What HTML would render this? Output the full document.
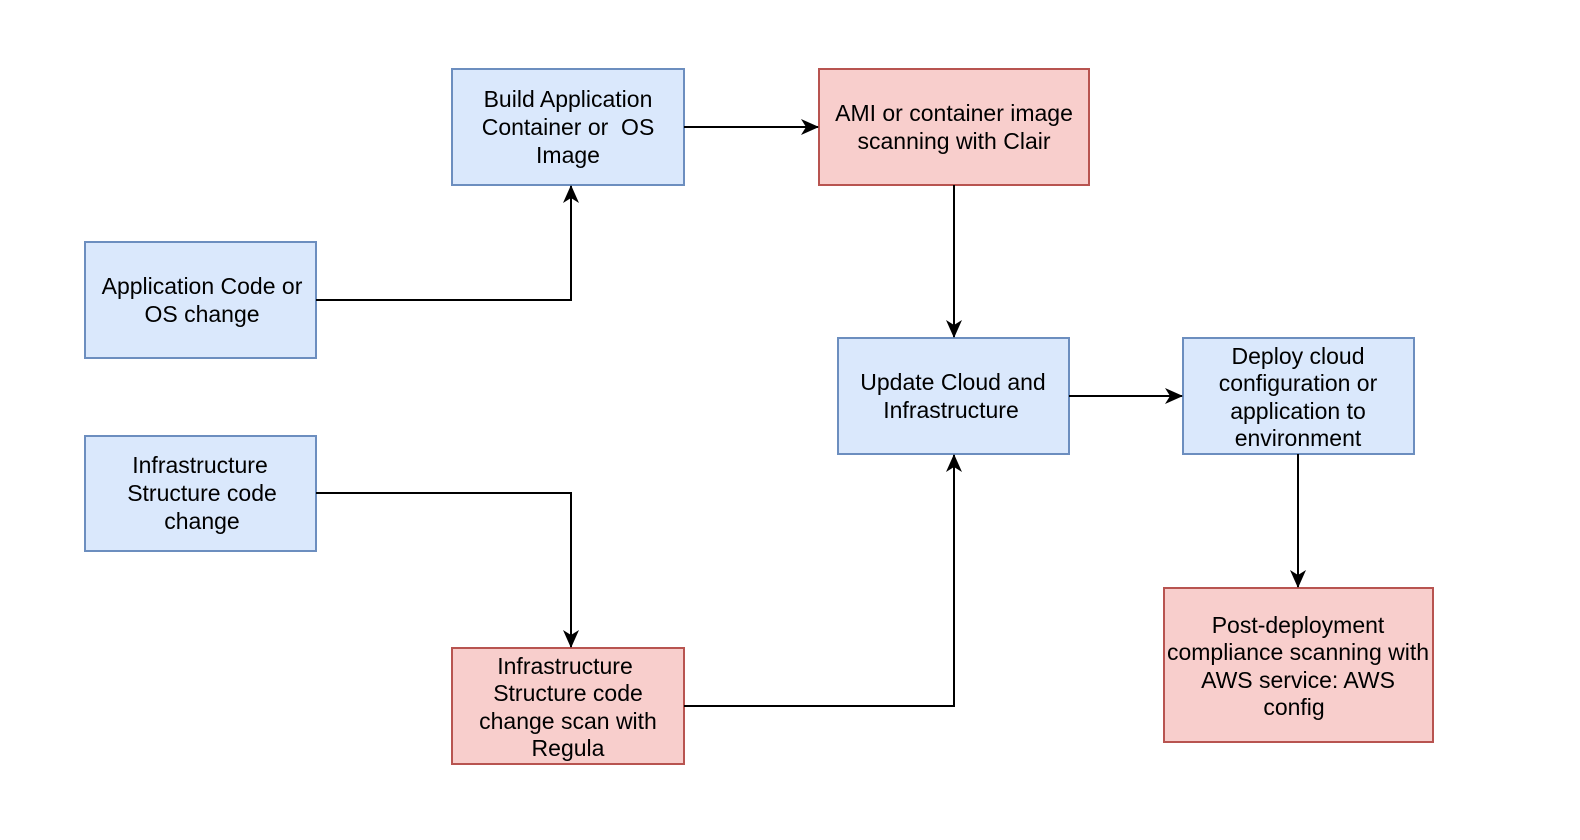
<!DOCTYPE html>
<html><head><style>body{margin:0;background:#fff}svg{display:block}text{font-family:"Liberation Sans",Arial,sans-serif;font-size:23px;fill:#000}</style></head><body>
<svg width="1580" height="840" viewBox="0 0 1580 840">
<defs><marker id="b" viewBox="0 0 18 18" markerWidth="18" markerHeight="18" refX="17" refY="9" orient="auto" markerUnits="userSpaceOnUse"><path d="M0,1 L18,9 L0,17 L5,9 Z" fill="#000"/></marker></defs>
<g fill="#dae8fc" stroke="#6c8ebf" stroke-width="2">
<rect x="452" y="69" width="232" height="116"/>
<rect x="85" y="242" width="231" height="116"/>
<rect x="85" y="436" width="231" height="115"/>
<rect x="838" y="338" width="231" height="116"/>
<rect x="1183" y="338" width="231" height="116"/>
</g>
<g fill="#f8cecc" stroke="#b85450" stroke-width="2">
<rect x="819" y="69" width="270" height="116"/>
<rect x="452" y="648" width="232" height="116"/>
<rect x="1164" y="588" width="269" height="154"/>
</g>
<g stroke="#000" stroke-width="2" fill="none">
<path d="M684 127 H818" marker-end="url(#b)"/>
<path d="M954 185 V337" marker-end="url(#b)"/>
<path d="M316 300 H571 V186" marker-end="url(#b)"/>
<path d="M316 493 H571 V647" marker-end="url(#b)"/>
<path d="M684 706 H954 V455" marker-end="url(#b)"/>
<path d="M1069 396 H1182" marker-end="url(#b)"/>
<path d="M1298 454 V587" marker-end="url(#b)"/>
</g>
<g text-anchor="middle">
<text x="568" y="107">Build Application</text><text x="568" y="135">Container or&#160; OS</text><text x="568" y="163">Image</text>
<text x="954" y="121">AMI or container image</text><text x="954" y="149">scanning with Clair</text>
<text x="202" y="294">Application Code or</text><text x="202" y="322">OS change</text>
<text x="200" y="473">Infrastructure</text><text x="202" y="501">Structure code</text><text x="202" y="529">change</text>
<text x="953" y="390">Update Cloud and</text><text x="951" y="418">Infrastructure</text>
<text x="1298" y="364">Deploy cloud</text><text x="1298" y="391">configuration or</text><text x="1298" y="419">application to</text><text x="1298" y="446">environment</text>
<text x="565" y="674">Infrastructure</text><text x="568" y="701">Structure code</text><text x="568" y="729">change scan with</text><text x="568" y="756">Regula</text>
<text x="1298" y="633">Post-deployment</text><text x="1298" y="660">compliance scanning with</text><text x="1298" y="688">AWS service: AWS</text><text x="1294" y="715">config</text>
</g>
</svg>
</body></html>
